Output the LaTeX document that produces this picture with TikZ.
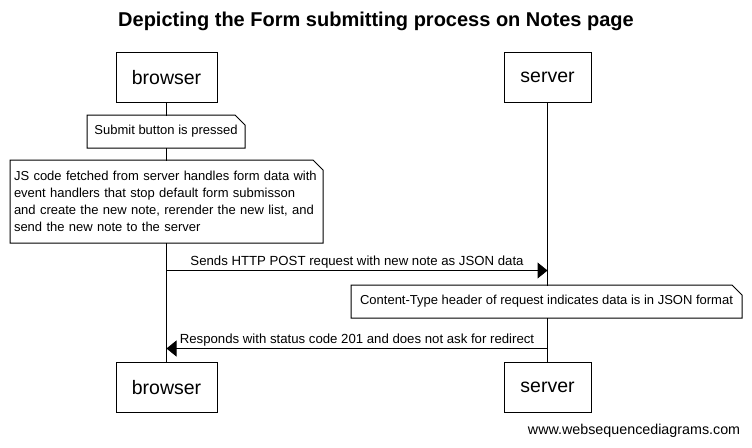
\documentclass[tikz,border=0pt]{standalone}
\usepackage{fontspec}
\setmainfont{Liberation Sans}
\usetikzlibrary{arrows.meta}

\begin{document}
\begin{tikzpicture}[x=1pt, y=-1pt, line width=1pt, >={Triangle[length=10pt,width=16pt]},
    ator/.style={draw, fill=white, minimum height=50pt, inner sep=0pt, font=\fontsize{19.5}{22}\selectfont},
    nota/.style={fill=white, inner sep=0pt, font=\fontsize{13}{17}\selectfont},
    msg/.style={font=\fontsize{13.2}{15}\selectfont, above, inner sep=2pt}]
    % Moldura (752 x 447)
    \useasboundingbox (0,0) rectangle (752,447);

    % Titulo
    \node[font=\fontsize{20}{24}\selectfont\bfseries] (titulo) at (376,21.5) {Depicting the Form submitting process on Notes page};

    % Participantes
    \node[ator, minimum width=101pt] (browserA) at (166.5,77.5) {browser};
    \node[ator, minimum width=87pt] (serverA) at (547.5,77.5) {server};
    \node[ator, minimum width=101pt] (browserB) at (166.5,387.5) {browser};
    \node[ator, minimum width=87pt] (serverB) at (547.5,387.5) {server};

    % Linhas de vida
    \draw (browserA.south) -- (browserB.north);
    \draw (serverA.south) -- (serverB.north);

    % Notas
    \node[nota, minimum width=157pt, minimum height=32pt] (nota1) at (166,131.5) {Submit button is pressed};
    \node[nota, minimum width=312pt, minimum height=82pt, text width=305pt, align=left] (nota2) at (166.5,201.5)
        {JS code fetched from server handles form data with\\
         event handlers that stop default form submisson\\
         and create the new note, rerender the new list, and\\
         send the new note to the server};
    \node[nota, minimum width=390pt, minimum height=32pt] (nota3) at (546.5,301.5)
        {Content-Type header of request indicates data is in JSON format};
    % contorno com a dobra no canto
    \foreach \n in {nota1,nota2,nota3}
        \draw (\n.south west) -- (\n.north west) -- ([xshift=-10pt]\n.north east)
            -- ([yshift=-10pt]\n.north east) -- (\n.south east) -- cycle;

    % Mensagens
    \coordinate (postB) at (166.5,270.5);
    \coordinate (postS) at (547.5,270.5);
    \draw[->] (postB) -- node[msg] {Sends HTTP POST request with new note as JSON data} (postS);

    \coordinate (respS) at (547.5,348.5);
    \coordinate (respB) at (166.5,348.5);
    \draw[->] (respS) -- node[msg] {Responds with status code 201 and does not ask for redirect} (respB);

    % Rodape
    \node[font=\fontsize{14.3}{16}\selectfont, anchor=east] (rodape) at (744,431) {www.websequencediagrams.com};
\end{tikzpicture}
\end{document}
